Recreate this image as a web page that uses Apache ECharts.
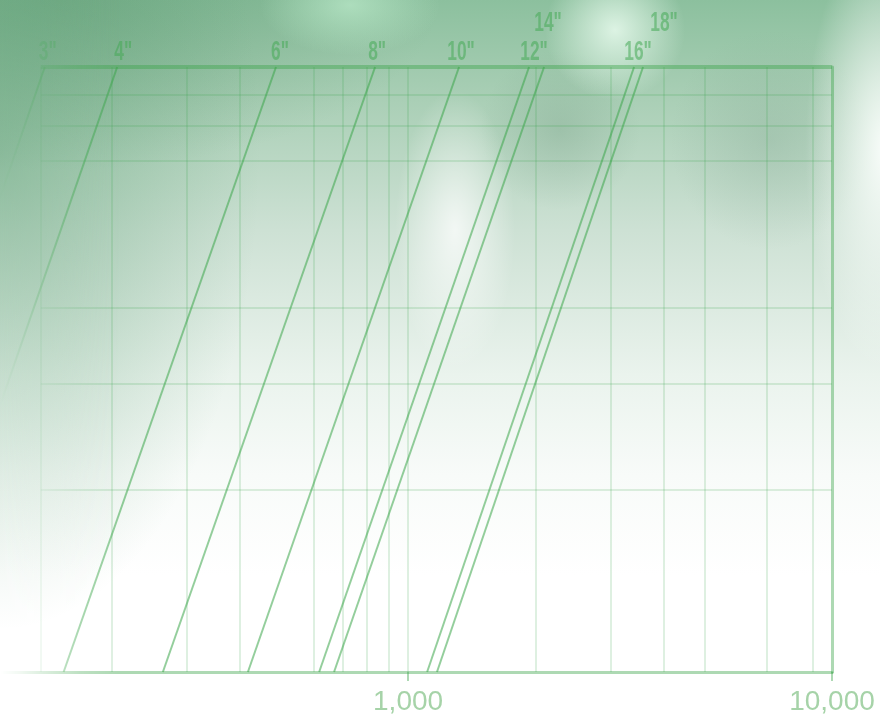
<!DOCTYPE html>
<html>
<head>
<meta charset="utf-8">
<script src="https://cdn.jsdelivr.net/npm/echarts/dist/echarts.min.js"></script>
<style>
  html, body { margin:0; padding:0; background:#fff; }
  #wrap { position:relative; width:880px; height:720px; overflow:hidden; }
  .paint {
    position:absolute; left:0; top:0; width:880px; height:720px;
    background:
      radial-gradient(ellipse 60px 140px at 455px 230px, rgba(255,255,255,0.75), rgba(255,255,255,0) 100%),
      radial-gradient(ellipse 70px 70px at 615px 30px, rgba(228,248,234,0.9), rgba(228,248,234,0) 100%),
      radial-gradient(ellipse 90px 50px at 350px 5px, rgba(185,232,200,0.75), rgba(185,232,200,0) 100%),
      radial-gradient(ellipse 80px 220px at 885px 150px, rgba(252,255,253,0.95), rgba(252,255,253,0) 100%),
      radial-gradient(ellipse 80px 80px at 560px 130px, rgba(120,160,135,0.35), rgba(120,160,135,0) 100%),
      radial-gradient(ellipse 100px 110px at 770px 140px, rgba(130,165,145,0.3), rgba(130,165,145,0) 100%),
      radial-gradient(ellipse 260px 480px at 0px 150px, rgba(95,160,118,0.5), rgba(95,160,118,0) 100%),
      radial-gradient(ellipse 380px 170px at 60px 0px, rgba(90,150,110,0.45), rgba(90,150,110,0) 100%),
      linear-gradient(to bottom, rgb(140,192,158) 0%, rgb(170,207,182) 14%, rgb(205,225,212) 32%, rgb(234,243,237) 52%, rgb(248,251,249) 66%, #ffffff 80%);
  }
  #chart { position:absolute; left:0; top:0; width:880px; height:720px; }
  .fade {
    pointer-events:none;
    -webkit-mask-image: linear-gradient(to right, #000 0px, rgba(0,0,0,0.85) 18px, rgba(0,0,0,0.55) 45px, rgba(0,0,0,0.2) 80px, rgba(0,0,0,0) 120px);
    mask-image: linear-gradient(to right, #000 0px, rgba(0,0,0,0.85) 18px, rgba(0,0,0,0.55) 45px, rgba(0,0,0,0.2) 80px, rgba(0,0,0,0) 120px);
  }
</style>
</head>
<body>
<div id="wrap">
  <div class="paint"></div>
  <div id="chart"></div>
  <div class="paint fade"></div>
</div>
<script>
// ---- data ----
const pipeSizes      = ['3"', '4"', '6"', '8"', '10"', '12"', '14"', '16"', '18"'];
const flowAtLowHead  = [45, 66, 154, 264, 419, 617, 669, 1109, 1170];      // x at y = 1
const flowAtHighHead = [139, 206, 488, 836, 1319, 1929, 2093, 3413, 3583]; // x at y = 10
const headRange      = [1, 10];
const flowAxisRange  = [109, 10000];   // visible x extent of the picture
const frameFlowRange = [136, 10000];   // x extent of the drawn frame
const flowGridValues = [200, 300, 400, 600, 700, 800, 900, 1000, 2000, 3000, 4000, 5000, 7000, 9000];
const headGridValues = [2, 3, 4, 7, 8, 9];

// ---- styles ----
const labelShift = [[3, 0], [6, 0], [4, 0], [2, 0], [2, 0], [5, 0], [4, -29], [4, 0], [21, -29]];
const lineColor  = 'rgba(60,165,75,0.55)';
const gridColor  = 'rgba(60,165,75,0.22)';
const frameColor = 'rgba(60,165,75,0.42)';

const chart = echarts.init(document.getElementById('chart'), null, { renderer: 'canvas' });

function isPow10(v) {
  const l = Math.log10(v);
  return Math.abs(l - Math.round(l)) < 1e-6;
}

const series = pipeSizes.map((name, i) => ({
  type: 'line',
  name: name,
  silent: true,
  z: 3,
  symbol: 'none',
  lineStyle: { color: lineColor, width: 2 },
  data: [
    [flowAtLowHead[i], headRange[0]],
    [flowAtHighHead[i], headRange[1]]
  ]
}));

const gridLines = flowGridValues.map(v => ({ xAxis: v, lineStyle: { color: gridColor, width: 1.5 } }))
  .concat(headGridValues.map(v => [
    { coord: [frameFlowRange[0], v], lineStyle: { color: gridColor, width: 1.5 } },
    { coord: [frameFlowRange[1], v] }
  ]))
  .concat([
    [ { coord: [frameFlowRange[0], headRange[0]], lineStyle: { color: gridColor, width: 1.5 } },
      { coord: [frameFlowRange[0], headRange[1]] } ],
    [ { coord: [frameFlowRange[0], headRange[1]], lineStyle: { color: frameColor, width: 4 } },
      { coord: [frameFlowRange[1], headRange[1]] } ]
  ]);

series.push({
  type: 'line',
  name: 'grid',
  data: [],
  silent: true,
  z: 1,
  markLine: {
    silent: true,
    symbol: ['none', 'none'],
    label: { show: false },
    lineStyle: { type: 'solid' },
    emphasis: { disabled: true },
    data: gridLines
  }
});

chart.setOption({
  animation: false,
  backgroundColor: 'transparent',
  grid: { left: 0, right: 48, top: 67, bottom: 48, containLabel: false },
  xAxis: {
    type: 'log', logBase: 10, position: 'bottom',
    min: flowAxisRange[0], max: flowAxisRange[1],
    axisLine: { show: true, lineStyle: { color: frameColor, width: 3 } },
    axisTick: { show: true, length: 9, lineStyle: { color: frameColor, width: 2 } },
    splitLine: { show: false },
    axisLabel: {
      showMinLabel: false,
      margin: 16,
      color: '#a6d3a8',
      fontSize: 28,
      fontFamily: "'Liberation Sans', Arial, sans-serif",
      formatter: v => (isPow10(v) ? Math.round(v).toLocaleString('en-US') : '')
    }
  },
  yAxis: [
    {
      type: 'log', logBase: 10, position: 'left',
      min: headRange[0], max: headRange[1],
      axisLine: { show: false }, axisTick: { show: false }, axisLabel: { show: false }, splitLine: { show: false }
    },
    {
      type: 'log', logBase: 10, position: 'right',
      min: headRange[0], max: headRange[1],
      axisLine: { show: true, lineStyle: { color: frameColor, width: 3 } },
      axisTick: { show: false }, axisLabel: { show: false }, splitLine: { show: false }
    }
  ],
  series: series
});

// size labels above the top end of each line (condensed look via horizontal scale)
const labelGraphics = pipeSizes.map((name, i) => {
  const p = chart.convertToPixel({ xAxisIndex: 0, yAxisIndex: 0 }, [flowAtHighHead[i], headRange[1]]);
  return {
    type: 'text',
    x: p[0] + labelShift[i][0],
    y: p[1] - 15 + labelShift[i][1],
    scaleX: 0.62,
    z: 10,
    silent: true,
    style: {
      text: name,
      font: "bold 28px 'Liberation Sans', Arial, sans-serif",
      fill: 'rgba(70,170,85,0.55)',
      align: 'center',
      verticalAlign: 'middle'
    }
  };
});
chart.setOption({ graphic: labelGraphics });
</script>
</body>
</html>
